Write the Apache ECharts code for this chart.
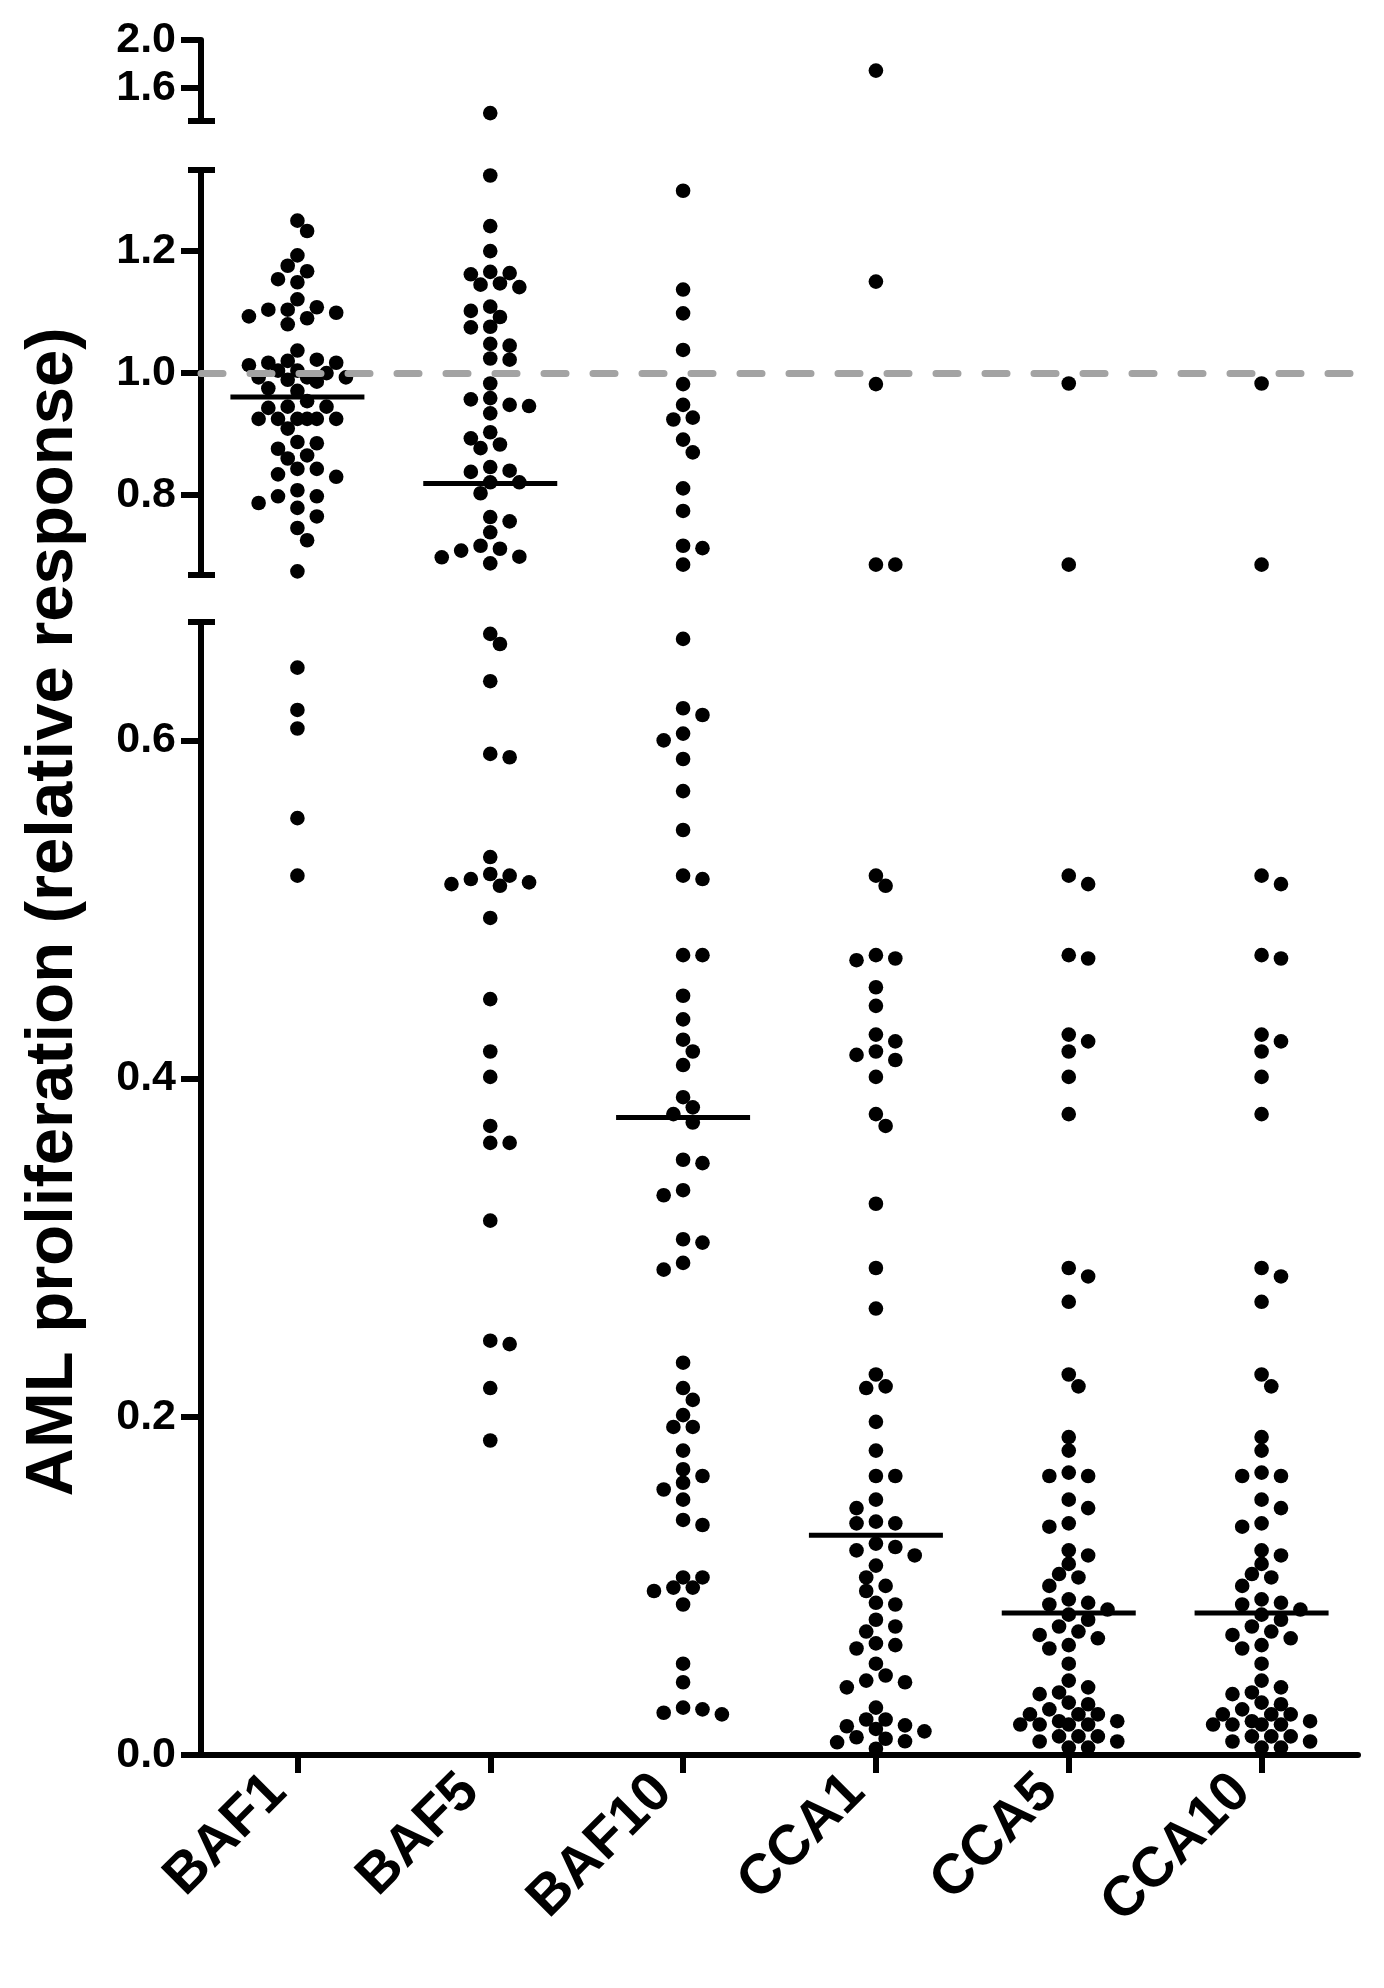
<!DOCTYPE html>
<html><head><meta charset="utf-8">
<script src="https://cdn.jsdelivr.net/npm/echarts@6/dist/echarts.min.js"></script>
<style>html,body{margin:0;padding:0;background:#fff}#c{width:1384px;height:1988px}</style>
</head><body><div id="c"></div>
<script>
var categories = ['BAF1','BAF5','BAF10','CCA1','CCA5','CCA10'];

var baf1 = [1.250,1.233,1.193,1.176,1.167,1.149,1.154,1.121,1.108,1.104,1.093,1.104,1.090,1.099,1.080,1.037,
  1.022,1.017,1.017,1.013,1.020,1.004,0.993,0.993,1.004,1.000,0.989,0.993,0.986,0.975,0.971,0.954,0.943,0.945,0.945,
  0.925,0.925,0.925,0.925,0.925,0.925,0.909,0.885,0.887,0.876,0.860,0.865,0.843,0.843,0.834,0.830,0.808,0.798,0.787,
  0.798,0.779,0.765,0.746,0.726,0.675,0.643,0.618,0.607,0.554,0.520];
var baf5 = [1.391,1.324,1.241,1.200,1.164,1.147,1.141,1.145,1.162,1.166,1.109,1.102,1.092,1.075,1.076,1.048,1.045,
  1.024,1.022,0.983,0.957,0.946,0.934,0.948,0.959,0.893,0.877,0.883,0.903,0.840,0.838,0.846,0.821,0.821,0.803,0.757,
  0.764,0.739,0.712,0.699,0.688,0.698,0.709,0.717,0.663,0.657,0.635,0.592,0.590,0.531,0.521,0.518,0.515,0.514,0.516,
  0.520,0.495,0.447,0.416,0.401,0.372,0.362,0.362,0.316,0.243,0.245,0.217,0.186];
var baf10 = [1.299,1.137,1.098,1.038,0.982,0.948,0.927,0.924,0.891,0.870,0.811,0.774,0.713,0.717,0.686,0.660,0.619,
  0.615,0.600,0.604,0.589,0.570,0.547,0.518,0.520,0.473,0.473,0.449,0.435,0.423,0.416,0.408,0.389,0.379,0.383,0.374,
  0.350,0.352,0.334,0.331,0.303,0.305,0.291,0.287,0.232,0.217,0.210,0.201,0.194,0.194,0.180,0.165,0.169,0.161,0.157,
  0.151,0.136,0.139,0.099,0.105,0.105,0.097,0.099,0.089,0.054,0.043,0.027,0.024,0.025,0.028];
var cca1 = [1.745,1.150,0.982,0.686,0.686,0.514,0.520,0.471,0.470,0.473,0.454,0.443,0.422,0.426,0.416,0.414,0.411,
  0.401,0.379,0.372,0.326,0.288,0.264,0.225,0.217,0.218,0.197,0.180,0.165,0.165,0.151,0.146,0.137,0.138,0.137,0.123,
  0.125,0.121,0.118,0.112,0.105,0.097,0.100,0.089,0.090,0.076,0.080,0.073,0.063,0.066,0.065,0.054,0.044,0.040,0.043,
  0.047,0.028,0.021,0.021,0.0175,0.017,0.0154,0.014,0.0105,0.0096,0.0081,0.0075,0.0037];
var cca5 = [0.983,0.686,0.515,0.520,0.473,0.471,0.426,0.422,0.416,0.401,0.379,0.288,0.283,0.268,0.225,0.218,0.188,
  0.180,0.165,0.165,0.167,0.151,0.146,0.137,0.135,0.121,0.113,0.118,0.105,0.100,0.107,0.090,0.092,0.089,0.086,0.080,
  0.083,0.076,0.073,0.071,0.069,0.065,0.063,0.054,0.044,0.036,0.040,0.037,0.027,0.030,0.031,0.024,0.024,0.024,0.020,
  0.020,0.018,0.018,0.018,0.018,0.011,0.008,0.011,0.008,0.011,0.0044,0.0044];
var cca10 = [0.983,0.686,0.515,0.520,0.473,0.471,0.426,0.422,0.416,0.401,0.379,0.288,0.283,0.268,0.225,0.218,0.188,
  0.180,0.165,0.165,0.167,0.151,0.146,0.137,0.135,0.121,0.113,0.118,0.105,0.100,0.107,0.090,0.092,0.089,0.086,0.080,
  0.083,0.076,0.073,0.071,0.069,0.065,0.063,0.054,0.044,0.036,0.040,0.037,0.027,0.030,0.031,0.024,0.024,0.024,0.020,
  0.020,0.018,0.018,0.018,0.018,0.011,0.008,0.011,0.008,0.011,0.0044,0.0044];
var medians = [0.961,0.819,0.377,0.130,0.084,0.084];
var referenceValue = 1.0;

// broken y-axis segments (top, middle, bottom)
var segTop = [1.325, 2.0], segMid = [0.669, 1.333], segLow = [0, 0.67];
var topTicks = [1.6, 2.0], midTicks = [0.8, 1.0, 1.2], lowTicks = [0.0, 0.2, 0.4, 0.6];
var yTitle = 'AML proliferation (relative response)';

var groups = [baf1, baf5, baf10, cca1, cca5, cca10];
var FONT = '"Liberation Sans", Arial, Helvetica, sans-serif';
var chart = echarts.init(document.getElementById('c'));

var segs = [segTop, segMid, segLow];
var tickSets = [topTicks, midTicks, lowTicks];
var gridDefs = [
  {left:201, right:26, top:40, height:81},
  {left:201, right:26, top:170, height:405},
  {left:201, right:26, top:622, height:1133}
];
function segIndex(v){ return v < segLow[1] ? 2 : (v < segMid[1] ? 1 : 0); }

var xAxes = [0,1,2].map(function(i){
  return {
    type:'category', gridIndex:i, data:categories, show: i===2,
    axisLine:{show:i===2, lineStyle:{color:'#000', width:6}},
    axisTick:{show:i===2, alignWithLabel:true, length:18, lineStyle:{color:'#000', width:6}},
    axisLabel:{show:i===2, interval:0, rotate:45, align:'right', verticalAlign:'bottom', margin:48,
      color:'#000', fontWeight:'bold', fontSize:56, fontFamily:FONT},
    splitLine:{show:false}
  };
});
var yAxes = [0,1,2].map(function(i){
  return {
    type:'value', gridIndex:i, min:segs[i][0], max:segs[i][1],
    axisLine:{show:true, lineStyle:{color:'#000', width:6}},
    axisTick:{show:true, inside:false, length:20, customValues:tickSets[i], lineStyle:{color:'#000', width:6}},
    axisLabel:{show:true, customValues:tickSets[i], margin:25, color:'#000', fontWeight:'bold', fontSize:43, fontFamily:FONT,
      formatter:function(v){ return (+v).toFixed(1); }},
    splitLine:{show:false}
  };
});

chart.setOption({
  animation:false,
  backgroundColor:'#fff',
  textStyle:{fontFamily:FONT},
  grid:gridDefs,
  xAxis:xAxes,
  yAxis:yAxes,
  series:[]
});

// beeswarm layout (deterministic, collision based, bounded width) in pixel space
var STEP = 9.7, D = 13.5, KMAX = 5;
var dotData = [[],[],[]];
groups.forEach(function(vals, ci){
  var pts = vals.map(function(v){
    var g = segIndex(v);
    var p = chart.convertToPixel({gridIndex:g}, [ci, v]);
    return {v:v, g:g, y:p[1], dx:0};
  });
  pts.sort(function(a,b){ return a.y - b.y; });
  var placed = [];
  pts.forEach(function(p){
    var bal = 0;
    placed.forEach(function(q){ if (Math.abs(q.y-p.y) < 3*D) bal += (q.dx>0?1:(q.dx<0?-1:0)); });
    var cands = [0];
    for (var k=1;k<=KMAX;k++){
      if (bal>0) cands.push(-k*STEP, k*STEP); else cands.push(k*STEP, -k*STEP);
    }
    var best = null, bestD = -1;
    for (var j=0;j<cands.length;j++){
      var c = cands[j], md = Infinity;
      for (var m=0;m<placed.length;m++){
        var q = placed[m], ddx = q.dx-c, ddy = q.y-p.y;
        var d = Math.sqrt(ddx*ddx+ddy*ddy);
        if (d < md) md = d;
      }
      if (md >= D){ best = c; bestD = md; break; }
      if (md > bestD + 0.5){ bestD = md; best = c; }
    }
    p.dx = best;
    placed.push(p);
    dotData[p.g].push([ci, p.v, p.dx]);
  });
});

var medData = [[],[],[]];
medians.forEach(function(m, ci){ medData[segIndex(m)].push([ci, m]); });

function dotRender(params, api){
  var c = api.coord([api.value(0), api.value(1)]);
  return {type:'circle', shape:{cx:c[0]+api.value(2), cy:c[1], r:7.3}, style:{fill:'#000'}};
}
function medRender(params, api){
  var c = api.coord([api.value(0), api.value(1)]);
  return {type:'line', shape:{x1:c[0]-67, y1:c[1], x2:c[0]+67, y2:c[1]}, style:{stroke:'#000', lineWidth:5}};
}

var series = [];
[0,1,2].forEach(function(g){
  series.push({type:'custom', xAxisIndex:g, yAxisIndex:g, data:dotData[g], renderItem:dotRender, clip:false, z:2,
    encode:{x:0, y:1}, silent:true});
});
[0,1,2].forEach(function(g){
  var s = {type:'custom', xAxisIndex:g, yAxisIndex:g, data:medData[g], renderItem:medRender, clip:false, z:3,
    encode:{x:0, y:1}, silent:true};
  if (g===1){
    s.markLine = {silent:true, symbol:'none', animation:false, label:{show:false},
      lineStyle:{color:'#a3a3a3', width:7, type:[22,27], cap:'round'},
      data:[{yAxis:referenceValue}]};
  }
  series.push(s);
});

// axis break caps
var x0 = chart.convertToPixel({gridIndex:2}, [0, 0])[0];
var x1 = chart.convertToPixel({gridIndex:2}, [1, 0])[0];
var axisX = x0 - (x1-x0)/2;
var capYs = [
  chart.convertToPixel({gridIndex:0}, [0, segTop[0]])[1],
  chart.convertToPixel({gridIndex:1}, [0, segMid[1]])[1],
  chart.convertToPixel({gridIndex:1}, [0, segMid[0]])[1],
  chart.convertToPixel({gridIndex:2}, [0, segLow[1]])[1]
];
var graphics = capYs.map(function(y){
  return {type:'line', shape:{x1:axisX-13, y1:y, x2:axisX+14, y2:y}, style:{stroke:'#000', lineWidth:6}, silent:true};
});
graphics.push({type:'text', x:54, y:912, rotation:Math.PI/2, silent:true,
  style:{text:yTitle, font:'bold 67px ' + FONT, fill:'#000', align:'center', verticalAlign:'middle',
    textAlign:'center', textVerticalAlign:'middle'}});

chart.setOption({series:series, graphic:graphics});
</script>
</body></html>
